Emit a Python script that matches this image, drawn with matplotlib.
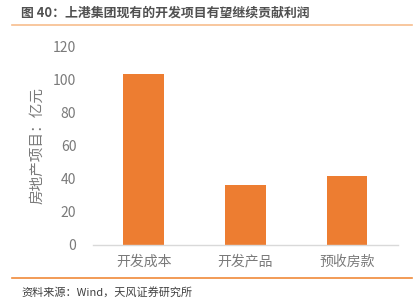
import matplotlib
matplotlib.use("Agg")
import matplotlib.pyplot as plt
from matplotlib.lines import Line2D

plt.rcParams['font.family'] = ['Noto Sans CJK SC', 'DejaVu Sans']

categories = ["开发成本", "开发产品", "预收房款"]
values = [103.3, 36.0, 41.8]
yticks = [0, 20, 40, 60, 80, 100, 120]

title = "图 40：上港集团现有的开发项目有望继续贡献利润"
source = "资料来源：Wind，天风证券研究所"
ylabel = "房地产项目：亿元"

fig = plt.figure(figsize=(4.14, 3.05), dpi=100)
ax = fig.add_axes([93/414, 1 - 245/305, 305/414, 199/305])

ax.bar(range(len(categories)), values, width=0.40, color="#ED7D31", zorder=2)
ax.set_xlim(-0.5, len(categories) - 0.5)
ax.set_ylim(0, 120)
ax.set_yticks(yticks)
ax.set_yticklabels([str(t) for t in yticks])
ax.set_xticks(range(len(categories)))
ax.set_xticklabels(categories)

for s in ["top", "right", "left"]:
    ax.spines[s].set_visible(False)
ax.spines["bottom"].set_color("#D9D9D9")
ax.spines["bottom"].set_linewidth(1.0)
ax.tick_params(axis="both", length=0, colors="#7A7A7A", labelsize=10)
ax.tick_params(axis="y", pad=12)
ax.tick_params(axis="x", pad=7)
for lbl in ax.get_yticklabels() + ax.get_xticklabels():
    lbl.set_fontweight("light")
ax.set_ylabel(ylabel, color="#7A7A7A", fontsize=10.5, labelpad=6, fontweight="light")

# header and footer rules
fig.add_artist(Line2D([12/414, 412/414], [1 - 25/305, 1 - 25/305],
                      color="#F7BE8E", linewidth=1.2))
fig.add_artist(Line2D([12/414, 412/414], [1 - 278/305, 1 - 278/305],
                      color="#F08A3A", linewidth=1.2))

fig.text(21/414, 1 - 13/305, title, fontsize=9.3, fontweight="bold",
         color="#505050", va="center", ha="left")
fig.text(21/414, 1 - 292/305, source, fontsize=8, color="#404040",
         va="center", ha="left")

fig.savefig("out.png", dpi=100)
